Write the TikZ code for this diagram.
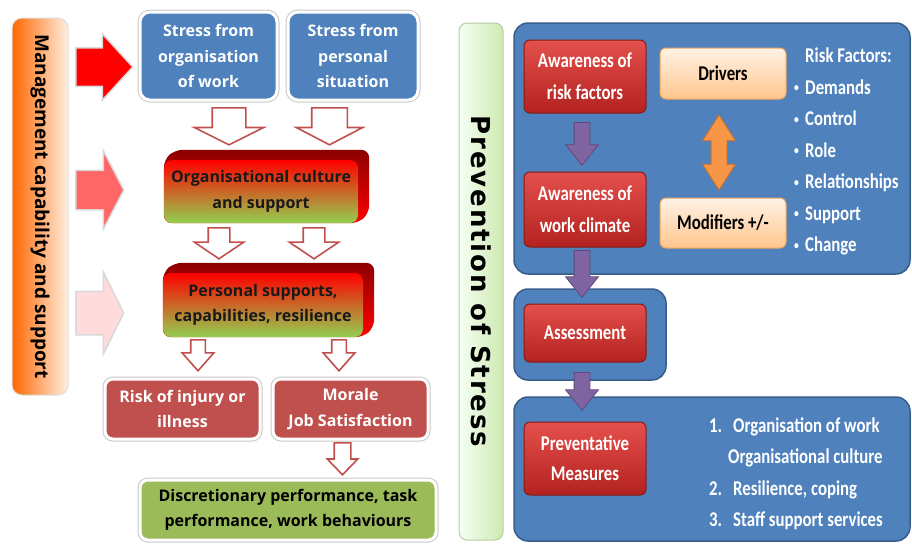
\documentclass[tikz,border=0pt]{standalone}
\usepackage{fontspec}
\setmainfont{Open Sans}
\newfontfamily\carl[FakeStretch=0.8]{Carlito}
\newfontfamily\dvs[LetterSpace=7]{DejaVu Sans}
\usetikzlibrary{shapes.arrows,backgrounds}

\definecolor{boxblue}{HTML}{4F81BD}
\definecolor{paneledge}{HTML}{385D8A}
\definecolor{rimgray}{HTML}{C8C8C8}
\definecolor{brick}{HTML}{C0504D}
\definecolor{leaf}{HTML}{9BBB59}
\definecolor{lime}{HTML}{92D050}
\definecolor{purp}{HTML}{8064A2}
\definecolor{purpd}{HTML}{5F497A}
\definecolor{tang}{HTML}{F79646}
\definecolor{tangd}{HTML}{D0701E}
\definecolor{stepred}{HTML}{E4504C}
\definecolor{stepdark}{HTML}{B3221F}

\newcommand{\bul}{\makebox[11pt][l]{\raisebox{2.5pt}{\fontsize{12}{12}\selectfont\textbullet}}}

\begin{document}
\begin{tikzpicture}[x=1pt, y=-1pt,
  lft/.style={font=\bfseries\fontsize{16}{25.5}\selectfont, align=center},
  rgt/.style={font=\carl\bfseries\fontsize{21}{31.5}\selectfont, align=center},
  rim/.style={draw=white, line width=3pt, preaction={draw=rimgray, line width=5pt}},
  stress/.style={lft, rim, rounded corners=10pt, fill=boxblue, text=white, minimum height=88pt},
  outcome/.style={lft, rim, rounded corners=8pt, minimum height=60pt},
  front/.style={lft, rounded corners=8pt, top color=red, middle color=orange!85!red, bottom color=lime, text=black!90},
  extr/.style={rounded corners=8pt, top color=red!55!black, bottom color=red},
  blk/.style={single arrow, anchor=tail, single arrow head indent=0pt, inner xsep=0pt, draw=rimgray!70, line width=1.5pt},
  hol/.style={single arrow, rotate=-90, anchor=tail, single arrow head indent=0pt, inner xsep=0pt, draw=brick, fill=white, line width=1.6pt},
  panel/.style={rounded corners=14pt, fill=boxblue, draw=paneledge, line width=1.5pt},
  redbox/.style={rgt, rounded corners=6pt, top color=stepred, bottom color=stepdark, draw=stepdark!75!black, line width=1pt, text=white, minimum width=122pt},
  peach/.style={rgt, rounded corners=6pt, top color=orange!10!white, bottom color=orange!45!white, draw=orange!60!brown!70, line width=1pt, minimum width=126pt},
  purarr/.style={single arrow, rotate=-90, anchor=tail, single arrow head indent=0pt, inner xsep=0pt, inner ysep=7.5pt, fill=purp, draw=purpd, line width=0.8pt, minimum width=32pt, single arrow head extend=8.5pt, single arrow tip angle=77}
]
\useasboundingbox (0,0) rectangle (912,544);

% --- Left: management bar and its arrows ---
\node[rotate=-90, minimum width=377pt, minimum height=56pt, rounded corners=10pt,
  left color=orange!80!red, middle color=orange!45!white, right color=orange!12!white,
  draw=rimgray!60, line width=1pt, font=\bfseries\fontsize{19}{19}\selectfont]
  (mgmt) at (40,206.5) {Management capability and support};

\node[blk, fill=red, minimum height=57pt, inner ysep=18.5pt, single arrow head extend=14pt, single arrow tip angle=95] (ra1) at (75,67) {};
\node[blk, fill=red!60!white, minimum height=48pt, inner ysep=19pt, single arrow head extend=19.5pt, single arrow tip angle=125] (ra2) at (75,190) {};
\node[blk, fill=red!14!white, minimum height=48pt, inner ysep=21pt, single arrow head extend=19pt, single arrow tip angle=127] (ra3) at (75,313) {};

% --- Left: sources of stress ---
\node[stress, minimum width=137pt] (orgw) at (208.5,56) {Stress from\\organisation\\of work};
\node[stress, minimum width=130pt] (pers) at (353,56) {Stress from\\personal\\situation};

% --- Left: 3D blocks ---
\node[front, minimum width=194pt, minimum height=63pt] (cult) at (261,191.5) {Organisational culture\\and support};
\node[front, minimum width=200pt, minimum height=64pt] (psup) at (263,305) {Personal supports,\\capabilities, resilience};
\begin{pgfonlayer}{background}
  \foreach \b in {cult,psup}
    \shade[extr] (\b.north west) -- ([shift={(11pt,10pt)}]\b.north west)
      -- ([shift={(11pt,10pt)}]\b.north east) -- ([shift={(11pt,10pt)}]\b.south east)
      -- (\b.south east) -- (\b.south west) -- cycle;
\end{pgfonlayer}

% --- Left: outcomes ---
\node[outcome, fill=brick, text=white, minimum width=155pt] (risk) at (182.5,409) {Risk of injury or\\illness};
\node[outcome, fill=brick, text=white, minimum width=155pt] (moral) at (350.5,409) {Morale\\Job Satisfaction};
\node[outcome, fill=leaf, minimum width=296pt] (perf) at (288,510) {Discretionary performance, task\\performance, work behaviours};

% --- Left: hollow arrows ---
\node[hol, minimum height=37pt, inner ysep=16pt, single arrow head extend=18pt, single arrow tip angle=127] (h1) at (229,107) {};
\node[hol, minimum height=37pt, inner ysep=17pt, single arrow head extend=15.5pt, single arrow tip angle=125] (h2) at (329.5,107) {};
\node[hol, minimum height=31pt, inner ysep=10pt, single arrow head extend=14pt, single arrow tip angle=112] (h3) at (219,227) {};
\node[hol, minimum height=31pt, inner ysep=10pt, single arrow head extend=14pt, single arrow tip angle=112] (h4) at (314,227) {};
\node[hol, minimum height=31pt, inner ysep=6.5pt, single arrow head extend=8.5pt, single arrow tip angle=83] (h5) at (198,339) {};
\node[hol, minimum height=31pt, inner ysep=6.5pt, single arrow head extend=8.5pt, single arrow tip angle=83] (h6) at (339,339) {};
\node[hol, minimum height=32pt, inner ysep=7.5pt, single arrow head extend=7pt, single arrow tip angle=88] (h7) at (342.5,442) {};

% --- Right: prevention bar and panels ---
\node[rotate=-90, minimum width=517pt, minimum height=44pt, rounded corners=8pt,
  left color=green!4!white, right color=lime!45!white, draw=lime!50!gray!60, line width=1pt,
  font=\dvs\bfseries\fontsize{26}{26}\selectfont]
  (prev) at (481,281.5) {Prevention of Stress};

\node[panel, minimum width=396pt, minimum height=251pt] (pnl1) at (712,148.5) {};
\node[panel, minimum width=152pt, minimum height=91pt] (pnl2) at (590,334.5) {};
\node[panel, minimum width=396pt, minimum height=144pt] (pnl3) at (712,469) {};

% --- Right: steps ---
\node[redbox, minimum height=73pt] (arisk) at (585,76.5) {Awareness of\\risk factors};
\node[redbox, minimum height=75pt] (aclim) at (585,209.5) {Awareness of\\work climate};
\node[redbox, minimum height=58pt] (asmt) at (585,333) {Assessment};
\node[redbox, minimum height=73pt, font=\carl\bfseries\fontsize{21}{30}\selectfont] (pmeas) at (585,458.5) {Preventative\\Measures};

\node[purarr, minimum height=43pt] (pa1) at (582,122) {};
\node[purarr, minimum height=47pt] (pa2) at (582,250) {};
\node[purarr, minimum height=38pt] (pa3) at (582,372) {};

% --- Right: drivers and modifiers ---
\node[peach, minimum height=51pt] (drv) at (723,73.5) {Drivers};
\node[peach, minimum height=50pt] (mod) at (723,223) {Modifiers +/-};
\node[double arrow, rotate=90, inner xsep=0pt, inner ysep=7.5pt, minimum height=75pt,
  double arrow head extend=8.5pt, double arrow tip angle=65, double arrow head indent=0pt,
  fill=tang, draw=tangd, line width=0.8pt] (dbl) at (719,152.5) {};

% --- Right: lists ---
\node[rgt, align=left, text=white, inner sep=0pt, anchor=north west] (rf) at (794,48)
  {\hphantom{\bul}Risk Factors:\\ \bul Demands\\ \bul Control\\ \bul Role\\
   \bul Relationships\\ \bul Support\\ \bul Change};
\node[rgt, align=left, text=white, inner sep=0pt, anchor=north west] (ml) at (709,417.5)
  {\makebox[24pt][l]{1.}Organisation of work\\ \hspace*{19pt}Organisational culture\\
   \makebox[24pt][l]{2.}Resilience, coping\\ \makebox[24pt][l]{3.}Staff support services};

\end{tikzpicture}
\end{document}
